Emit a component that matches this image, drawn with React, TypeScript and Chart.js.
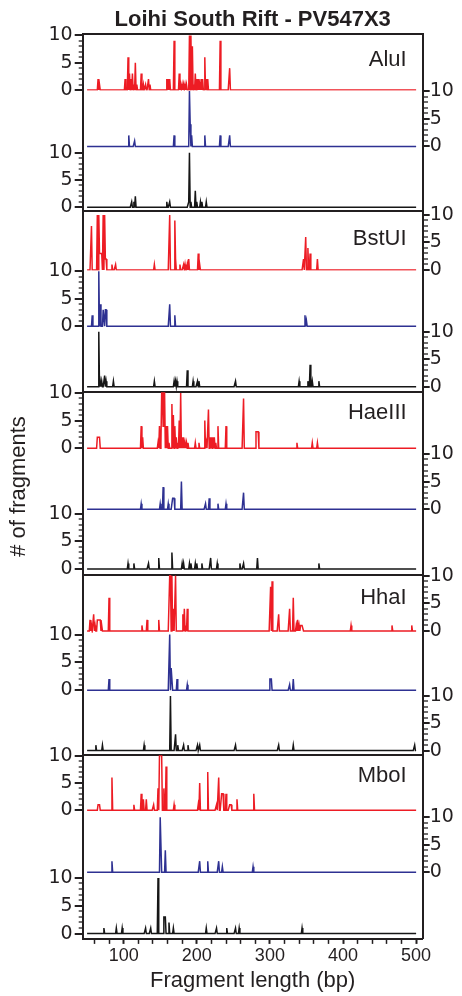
import React, { useEffect, useRef } from 'react';
import { Chart, registerables } from 'chart.js';

Chart.register(...registerables);

// ---------- text ----------
const TITLE = 'Loihi South Rift - PV547X3';
const X_TITLE = 'Fragment length (bp)';
const Y_TITLE = '# of fragments';
const ENZYMES = ['AluI', 'BstUI', 'HaeIII', 'HhaI', 'MboI'];

// ---------- axes ----------
const X_MIN = 44;
const X_MAX = 509;
const X_TICKS = [60, 80, 100, 120, 140, 160, 180, 200, 220, 240, 260, 280, 300, 320, 340, 360, 380, 400, 420, 440, 460, 480, 500];
const X_TICK_LABELS = [100, 200, 300, 400, 500];
const Y_TICKS = [0, 1, 2, 3, 4, 5, 6, 7, 8, 9, 10];
const Y_TICK_LABELS = [0, 5, 10];
const BP_FIRST = 50;
const BP_LAST = 500;

// ---------- data: [fragment length (bp), # of fragments] ----------
const ALUI_RED = [[65, 2], [67, 1], [102, 2], [106, 6], [108, 3], [110, 2], [112, 3], [114, 1], [116, 5], [118, 1], [124, 3], [127, 1], [130, 1], [134, 2], [136, 1], [159, 2], [161, 2], [163, 2], [169, 9], [176, 3], [178, 1], [180, 1], [182, 1], [184, 1], [186, 1], [190, 10], [192, 10], [194, 8], [196, 1], [198, 3], [200, 2], [202, 2], [204, 1], [206, 2], [208, 2], [211, 6], [213, 2], [215, 2], [232, 9], [245, 4]];
const ALUI_BLUE = [[107, 2], [115, 1], [169, 2], [190, 10], [191, 4], [193, 2], [211, 2], [232, 2], [245, 2]];
const ALUI_BLACK = [[111, 1], [114, 1], [116, 2], [159, 1], [163, 1], [189, 1], [190, 10], [192, 1], [198, 3], [200, 1], [205, 1], [207, 1], [213, 1]];

const BSTUI_RED = [[56, 8], [64, 10], [66, 10], [67, 3], [68, 3], [69, 3], [70, 3], [72, 10], [74, 10], [75, 2], [76, 2], [84, 1], [89, 1], [142, 1], [163, 10], [170, 9], [171, 2], [177, 1], [182, 1], [184, 1], [187, 1], [189, 2], [202, 3], [204, 1], [346, 2], [349, 6], [352, 4], [355, 3], [365, 2]];
const BSTUI_BLUE = [[57, 2], [66, 10], [68, 4], [72, 3], [73, 3], [75, 3], [76, 3], [163, 4], [170, 2], [348, 2], [350, 1]];
const BSTUI_BLACK = [[66, 10], [68, 1], [70, 1], [74, 2], [76, 1], [86, 1], [142, 1], [169, 1], [171, 1], [173, 1], [187, 3], [195, 1], [201, 1], [203, 1], [253, 1], [340, 1], [352, 1], [355, 4], [358, 1], [367, 1]];

const HAEIII_RED = [[64, 2], [65, 2], [66, 2], [67, 2], [124, 4], [126, 2], [147, 1], [149, 4], [151, 1], [152, 10], [153, 10], [154, 4], [155, 10], [156, 10], [158, 4], [160, 4], [162, 1], [166, 8], [168, 6], [170, 4], [172, 2], [174, 1], [176, 5], [178, 10], [180, 2], [182, 2], [184, 1], [186, 1], [188, 1], [198, 1], [203, 1], [211, 5], [213, 1], [216, 7], [218, 2], [220, 2], [222, 2], [224, 2], [226, 1], [229, 4], [240, 4], [264, 9], [281, 3], [282, 3], [283, 3], [284, 3], [337, 1], [358, 1], [365, 1]];
const HAEIII_BLUE = [[124, 1], [150, 1], [154, 4], [161, 1], [167, 2], [168, 2], [169, 2], [179, 5], [212, 1], [217, 2], [229, 1], [240, 1], [264, 3]];
const HAEIII_BLACK = [[106, 1], [114, 1], [134, 1], [148, 2], [166, 3], [180, 1], [182, 1], [190, 1], [192, 1], [198, 1], [200, 1], [207, 1], [219, 2], [228, 1], [259, 1], [264, 1], [283, 2], [367, 1]];

const HHAI_RED = [[54, 2], [56, 1], [59, 3], [61, 1], [64, 2], [65, 2], [66, 2], [67, 2], [68, 2], [70, 1], [80, 6], [125, 1], [132, 2], [148, 2], [163, 10], [164, 10], [166, 10], [168, 4], [171, 10], [181, 3], [183, 4], [185, 1], [187, 4], [301, 8], [303, 9], [312, 3], [327, 4], [332, 6], [336, 1], [338, 2], [340, 1], [342, 1], [343, 1], [344, 1], [345, 1], [411, 1], [467, 1], [494, 1]];
const HHAI_BLUE = [[80, 2], [163, 10], [165, 4], [166, 4], [173, 2], [187, 1], [300, 2], [301, 2], [302, 2], [327, 1], [332, 2]];
const HHAI_BLACK = [[62, 1], [71, 1], [128, 1], [164, 10], [171, 3], [174, 1], [182, 1], [188, 1], [201, 1], [204, 1], [253, 1], [312, 1], [332, 1], [498, 1]];

const MBOI_RED = [[65, 1], [66, 1], [67, 1], [84, 6], [114, 1], [124, 3], [127, 2], [131, 2], [141, 1], [147, 4], [149, 10], [150, 10], [151, 10], [152, 10], [155, 4], [158, 8], [169, 1], [202, 1], [204, 5], [215, 7], [227, 1], [230, 6], [234, 3], [235, 3], [236, 3], [240, 3], [245, 1], [246, 1], [247, 1], [255, 2], [278, 3]];
const MBOI_BLUE = [[84, 2], [150, 10], [151, 10], [157, 4], [204, 2], [215, 2], [230, 2], [235, 1], [277, 1]];
const MBOI_BLACK = [[73, 1], [90, 1], [98, 1], [130, 1], [137, 1], [147, 10], [155, 3], [156, 3], [157, 3], [162, 2], [168, 1], [213, 1], [227, 1], [241, 1], [253, 1], [258, 1], [344, 1]];

// strips top to bottom
const STRIP_DATA = [
  ALUI_RED, ALUI_BLUE, ALUI_BLACK,
  BSTUI_RED, BSTUI_BLUE, BSTUI_BLACK,
  HAEIII_RED, HAEIII_BLUE, HAEIII_BLACK,
  HHAI_RED, HHAI_BLUE, HHAI_BLACK,
  MBOI_RED, MBOI_BLUE, MBOI_BLACK,
];

// ---------- styles / layout ----------
const RED = '#ed1c24';
const BLUE = '#2e3192';
const BLACK = '#161616';
const INK = '#231f20';
const TRACE_COLORS = [RED, BLUE, BLACK];
const FONT = '"Liberation Sans", Arial, Helvetica, sans-serif';
const TICK_FONT = '"DejaVu Sans", "Liberation Sans", sans-serif';

// strip geometry (pixel rows of the reference picture)
const STRIP_EDGES = [34, 90.5, 149.6, 211, 270.6, 329, 391.7, 451.2, 511.6, 574.7, 632.8, 693.1, 755.3, 813.8, 875.1, 939];
const TICK10_Y = [35.4, 91, 152.7, 215, 271.3, 331.7, 393, 454, 514, 575.7, 634.7, 696, 755.7, 817.3, 878];
const TICK0_Y = [90, 146.5, 207.3, 270, 326.3, 386.7, 448.3, 509.3, 569, 631, 690.3, 750.7, 810.3, 872.3, 933.7];
const LABEL_X = 487;
const LABEL_Y = [5.5, 5.65, 6.3, 6.0, 6.25];
const Y_TITLE_BOX = 46.5;
const LEFT_AXIS_BOX = 36.2;
const RIGHT_AXIS_BOX = 31.2;

function toSeries(peaks: number[][]) {
  const m = new Map<number, number>(peaks.map((p) => [p[0], p[1]] as [number, number]));
  const pts: { x: number; y: number }[] = [];
  for (let bp = BP_FIRST; bp <= BP_LAST; bp++) pts.push({ x: bp, y: m.get(bp) ?? 0 });
  return pts;
}

const TRANSPARENT = 'rgba(0,0,0,0)';

function buildScales() {
  const scales: any = {
    x: {
      type: 'linear',
      position: 'bottom',
      min: X_MIN,
      max: X_MAX,
      afterBuildTicks: (s: any) => {
        s.ticks = X_TICKS.map((v) => ({ value: v }));
      },
      ticks: {
        autoSkip: false,
        maxRotation: 0,
        minRotation: 0,
        padding: 1.7,
        color: INK,
        font: { family: FONT, size: 18 },
        callback: (v: any) => (X_TICK_LABELS.includes(Number(v)) ? String(v) : ''),
      },
      grid: {
        drawOnChartArea: false,
        drawTicks: true,
        tickLength: 5,
        tickColor: INK,
        tickWidth: (c: any) => (c.tick && X_TICK_LABELS.includes(c.tick.value) ? 2 : 1.5),
      },
      border: { display: true, width: 2, color: INK },
      title: {
        display: true,
        text: X_TITLE,
        color: INK,
        font: { family: FONT, size: 22, lineHeight: 1.1 },
        padding: { top: 0, bottom: 2.9 },
      },
    },
    yTitle: {
      type: 'linear',
      position: 'left',
      weight: 100,
      min: 0,
      max: 1,
      afterFit: (s: any) => {
        s.width = Y_TITLE_BOX;
      },
      ticks: { display: false },
      grid: { display: false, drawTicks: false, drawOnChartArea: false },
      border: { display: false },
      title: {
        display: true,
        text: Y_TITLE,
        color: INK,
        font: { family: FONT, size: 22 },
        padding: { top: 5.8, bottom: 14.3 },
      },
    },
  };

  for (let i = 0; i < STRIP_DATA.length; i++) {
    const top = STRIP_EDGES[i];
    const bottom = STRIP_EDGES[i + 1];
    const k = (TICK0_Y[i] - TICK10_Y[i]) / 10;
    const max = 10 + (TICK10_Y[i] - top) / k;
    const min = -(bottom - TICK0_Y[i]) / k;
    const weightPx = bottom - top;
    const side = i % 2 === 0 ? 'left' : 'right';
    const other = side === 'left' ? 'right' : 'left';
    const panelTop = i % 3 === 0;
    const isLeft = side === 'left';
    const isFrame = (c: any) => c.tick && c.tick.value === max;
    const isMajor = (c: any) => c.tick && Y_TICK_LABELS.includes(c.tick.value);

    scales[`s${i}`] = {
      type: 'linear',
      position: side,
      stack: 'strips',
      stackWeight: weightPx,
      weight: isLeft ? 50 - i : i,
      min,
      max,
      afterBuildTicks: (s: any) => {
        const t = Y_TICKS.map((v) => ({ value: v }));
        if (panelTop) t.push({ value: max });
        s.ticks = t;
      },
      afterFit: (s: any) => {
        s.width = isLeft ? LEFT_AXIS_BOX : RIGHT_AXIS_BOX;
      },
      ticks: {
        autoSkip: false,
        padding: isLeft ? 2 : 0,
        color: INK,
        font: { family: TICK_FONT, size: 19 },
        callback: (v: any) => (Y_TICK_LABELS.includes(Number(v)) ? String(v) : ''),
      },
      grid: {
        drawOnChartArea: panelTop,
        drawTicks: true,
        tickLength: isLeft ? 8 : 7,
        lineWidth: 2,
        color: (c: any) => (isFrame(c) ? INK : TRANSPARENT),
        tickColor: (c: any) => (isFrame(c) ? TRANSPARENT : INK),
        tickWidth: (c: any) => (isMajor(c) ? 2 : 1.3),
        tickBorderDash: (c: any) => (c.tick && !isMajor(c) ? (isLeft ? [4, 4] : [4, 100]) : []),
        tickBorderDashOffset: (c: any) => (c.tick && !isMajor(c) && isLeft ? 4 : 0),
      },
      border: { display: true, width: 2, color: INK },
    };

    scales[`h${i}`] = {
      type: 'linear',
      position: other,
      stack: 'strips',
      stackWeight: weightPx,
      weight: other === 'left' ? 50 - i : i,
      min,
      max,
      afterFit: (s: any) => {
        s.width = other === 'left' ? LEFT_AXIS_BOX : RIGHT_AXIS_BOX;
      },
      ticks: { display: false },
      grid: { display: true, drawTicks: false, drawOnChartArea: false },
      border: { display: true, width: 2, color: INK },
    };
  }
  return scales;
}

const panelLabels = {
  id: 'panelLabels',
  afterDatasetsDraw(chart: any) {
    const { ctx, scales } = chart;
    ctx.save();
    ctx.font = `22px ${FONT}`;
    ctx.fillStyle = INK;
    ctx.textAlign = 'right';
    ctx.textBaseline = 'middle';
    ENZYMES.forEach((name, p) => {
      const ys = scales[`s${p * 3}`];
      ctx.fillText(name, scales.x.getPixelForValue(LABEL_X), ys.getPixelForValue(LABEL_Y[p]));
    });
    ctx.restore();
  },
};

export default function App() {
  const ref = useRef<HTMLCanvasElement | null>(null);

  useEffect(() => {
    if (!ref.current) return;
    const datasets = STRIP_DATA.map((peaks, i) => ({
      label: `${ENZYMES[Math.floor(i / 3)]}-${i % 3}`,
      data: toSeries(peaks),
      xAxisID: 'x',
      yAxisID: `s${i}`,
      borderColor: TRACE_COLORS[i % 3],
      borderWidth: 1.5,
      pointRadius: 0,
      pointHoverRadius: 0,
      tension: 0,
      fill: false,
    }));

    const chart = new Chart(ref.current, {
      type: 'line',
      data: { datasets },
      options: {
        animation: false,
        responsive: false,
        events: [],
        layout: { padding: { left: 0, right: 8.1, top: 0, bottom: 0 } },
        plugins: {
          legend: { display: false },
          tooltip: { enabled: false },
          title: {
            display: true,
            text: TITLE,
            fullSize: false,
            color: INK,
            font: { family: FONT, size: 22, weight: 'bold' },
            padding: { top: 6.3, bottom: 1.3 },
          },
        },
        scales: buildScales(),
      } as any,
      plugins: [panelLabels],
    });
    return () => chart.destroy();
  }, []);

  return (
    <div style={{ position: 'fixed', left: 0, top: 0, width: 462, height: 996, background: '#fff' }}>
      <canvas ref={ref} width={462} height={996} style={{ display: 'block', width: 462, height: 996 }} />
    </div>
  );
}
